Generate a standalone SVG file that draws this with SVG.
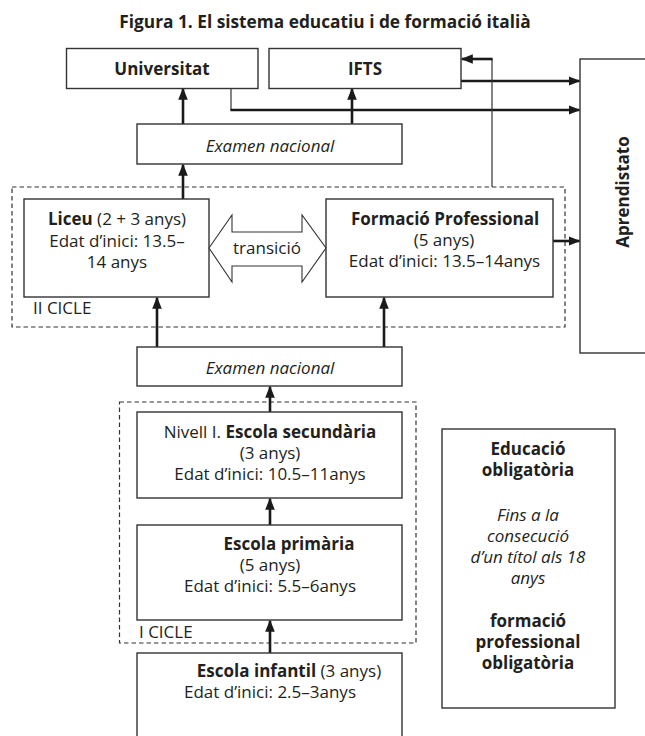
<svg xmlns="http://www.w3.org/2000/svg" width="645" height="736" viewBox="0 0 645 736">
<defs>
<style>
text{font-family:"Open Sans","Liberation Sans",sans-serif;font-size:17px;fill:#231f20}
.t{font-weight:bold;font-size:17.3px}
.b{font-weight:bold}
.i{font-style:italic}
.m{text-anchor:middle}
.box{fill:#fff;stroke:#333;stroke-width:1.4}
.dash{fill:none;stroke:#333;stroke-width:1.2;stroke-dasharray:4.5 3}
.arr{fill:none;stroke:#1a1a1a;stroke-width:2.6;marker-end:url(#ah)}
.thin{fill:none;stroke:#333;stroke-width:1.2}
</style>
<marker id="ah" markerUnits="userSpaceOnUse" markerWidth="12" markerHeight="12" viewBox="0 0 12 12" refX="11" refY="6" orient="auto">
<path d="M0,1.2 L12,6 L0,10.8 Z" fill="#1a1a1a"/>
</marker>
</defs>

<text class="t m" x="325" y="28">Figura 1. El sistema educatiu i de formació italià</text>

<g id="cicle2"><rect class="dash" x="12" y="187" width="553" height="140"/><text x="33" y="314">II CICLE</text></g>
<g id="cicle1"><rect class="dash" x="119.5" y="402" width="296.5" height="241"/><text x="139" y="638">I CICLE</text></g>

<g id="connectors">
<path class="arr" d="M183,124 V88.7"/>
<path class="arr" d="M352,124 V88.7"/>
<path class="arr" d="M183,199 V164.7"/>
<path class="thin" d="M231,88 V110"/>
<path class="arr" d="M230.4,110 H579.5"/>
<path class="arr" d="M461,81 H579.5"/>
<path class="thin" d="M492,187 V59"/>
<path class="arr" d="M492.6,59 H461.8"/>
<path class="arr" d="M553,241 H579.5"/>
<path class="arr" d="M157,347 V297.7"/>
<path class="arr" d="M384,347 V297.7"/>
<path class="arr" d="M270,412 V386.7"/>
<path class="arr" d="M270,525 V498.7"/>
<path class="arr" d="M270,653 V620.7"/>
</g>

<g id="universitat"><rect class="box" x="66.5" y="48.5" width="191.5" height="40"/><text class="b m" x="162" y="75">Universitat</text></g>
<g id="ifts"><rect class="box" x="269" y="48.5" width="192" height="40"/><text class="b m" x="365" y="75">IFTS</text></g>
<g id="examen1"><rect class="box" x="137" y="124" width="265" height="40"/><text class="i m" x="270" y="152">Examen nacional</text></g>
<g id="aprendistato"><rect class="box" x="580" y="59" width="80" height="294"/><text class="b m" transform="translate(629,192) rotate(-90)">Aprendistato</text></g>
<g id="liceu"><rect class="box" x="24" y="199" width="185" height="98"/>
<text class="m" x="117" y="225"><tspan class="b">Liceu</tspan> (2 + 3 anys)</text>
<text class="m" x="117" y="247">Edat d’inici: 13.5–</text>
<text class="m" x="117" y="268">14 anys</text></g>
<g id="transicio"><path d="M209,248 L232,215 V232 H302 V215 L326,248 L302,282 V266 H232 V282 Z" fill="#fff" stroke="#333" stroke-width="1.1"/><text class="m" x="267" y="254">transició</text></g>
<g id="fp"><rect class="box" x="326" y="199" width="227" height="98"/>
<text class="b m" x="445" y="225">Formació Professional</text>
<text class="m" x="444" y="246">(5 anys)</text>
<text class="m" x="444.5" y="267">Edat d’inici: 13.5–14anys</text></g>
<g id="examen2"><rect class="box" x="137" y="347" width="265" height="39"/><text class="i m" x="270" y="374">Examen nacional</text></g>
<g id="secundaria"><rect class="box" x="137" y="412" width="265" height="86"/>
<text class="m" x="270" y="438">Nivell I. <tspan class="b">Escola secundària</tspan></text>
<text class="m" x="270" y="459">(3 anys)</text>
<text class="m" x="270" y="480">Edat d’inici: 10.5–11anys</text></g>
<g id="primaria"><rect class="box" x="137" y="525" width="265" height="95"/>
<text class="b m" x="289" y="550">Escola primària</text>
<text class="m" x="270" y="571">(5 anys)</text>
<text class="m" x="270" y="592">Edat d’inici: 5.5–6anys</text></g>
<g id="infantil"><rect class="box" x="137" y="653" width="265" height="100"/>
<text class="m" x="289" y="677"><tspan class="b">Escola infantil</tspan> (3 anys)</text>
<text class="m" x="270" y="698">Edat d’inici: 2.5–3anys</text></g>
<g id="obligatoria"><rect class="box" x="442" y="429" width="173" height="279"/>
<text class="b m" x="528" y="455">Educació</text>
<text class="b m" x="528" y="476">obligatòria</text>
<text class="i m" x="528" y="521">Fins a la</text>
<text class="i m" x="528" y="542">consecució</text>
<text class="i m" x="528" y="563">d’un títol als 18</text>
<text class="i m" x="528" y="584">anys</text>
<text class="b m" x="528" y="627">formació</text>
<text class="b m" x="528" y="648">professional</text>
<text class="b m" x="528" y="669">obligatòria</text></g>
</svg>
